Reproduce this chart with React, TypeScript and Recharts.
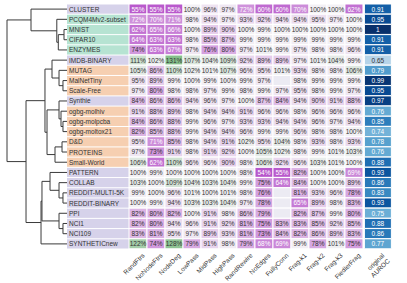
import React from "react";
import { BarChart, Bar, XAxis, YAxis, Cell, LabelList, LineChart, Line } from "recharts";

const datasets = [
  "CLUSTER", "PCQM4Mv2-subset", "MNIST", "CIFAR10", "ENZYMES", "IMDB-BINARY",
  "MUTAG", "MalNetTiny", "Scale-Free", "Synthie", "ogbg-molhiv", "ogbg-molpcba",
  "ogbg-moltox21", "D&D", "PROTEINS", "Small-World", "PATTERN", "COLLAB",
  "REDDIT-MULTI-5K", "REDDIT-BINARY", "PPI", "NCI1", "NCI109", "SYNTHETICnew",
];

// label colour group per dataset
const datasetGroup = [
  "a", "b", "b", "b", "b", "a", "c", "c", "c", "a", "c", "c",
  "c", "c", "c", "c", "a", "a", "a", "a", "a", "a", "a", "a",
];

const perturbations = [
  "RandFtrs", "NoNodeFtrs", "NodeDeg", "LowPass", "MidPass", "HighPass", "RandRewire",
  "NoEdges", "FullyConn", "Frag-k1", "Frag-k2", "Frag-k3", "FiedlerFrag",
];

// relative performance in %, null = not run
const relPerf: (number | null)[][] = [
  [55, 55, 55, 100, 96, 97, 72, 60, 60, 70, 100, 100, 62],
  [72, 70, 71, 98, 94, 97, 93, 92, 94, 94, 95, 97, 100],
  [62, 65, 66, 100, 89, 90, 100, 99, 100, 100, 100, 100, 100],
  [64, 63, 63, 98, 85, 87, 99, 99, 99, 99, 99, 99, 99],
  [74, 63, 67, 97, 76, 80, 97, 101, 99, 97, 98, 98, 96],
  [111, 102, 131, 107, 104, 109, 92, 89, 89, 97, 101, 104, 99],
  [105, 86, 110, 102, 101, 107, 96, 95, 101, 93, 98, 98, 106],
  [95, 89, 99, 100, 99, 100, 99, 97, null, 98, 99, 99, 99],
  [97, 80, 98, 98, 97, 99, 98, 99, 97, 95, 98, 99, 97],
  [84, 86, 86, 94, 96, 97, 100, 87, 84, 94, 90, 91, 88],
  [91, 88, 89, 98, 94, 94, 91, 96, 96, 98, 96, 96, 96],
  [84, 86, 88, 99, 96, 97, 93, 93, 94, 94, 96, 97, 94],
  [82, 85, 88, 99, 94, 94, 96, 99, 99, 96, 98, 98, 100],
  [95, 71, 85, 98, 94, 91, 102, 95, 104, 98, 93, 98, 93],
  [97, 73, 91, 98, 91, 92, 100, 105, 102, 98, 99, 101, 103],
  [106, 62, 110, 96, 96, 90, 98, 106, 92, 96, 103, 101, 100],
  [100, 99, 100, 100, 100, 100, 98, 54, 55, 82, 100, 100, 69],
  [103, 100, 109, 104, 103, 104, 99, 75, 64, 84, 100, 100, 89],
  [99, 100, 96, 101, 100, 101, 98, 76, null, 81, 93, 96, 78],
  [100, 99, 94, 103, 103, 104, 97, 78, null, 65, 89, 98, 83],
  [82, 80, 82, 100, 91, 98, 86, 79, null, 82, 87, 99, 80],
  [82, 80, 94, 96, 91, 92, 81, 75, 83, 83, 85, 92, 85],
  [83, 81, 95, 97, 89, 93, 81, 73, 84, 82, 86, 89, 83],
  [122, 74, 128, 79, 91, 98, 79, 68, 69, 99, 78, 101, 75],
];

const originalAuroc = [
  0.91, 0.95, 1, 0.91, 0.91, 0.65, 0.79, 0.99, 0.95, 0.97, 0.76, 0.85,
  0.74, 0.78, 0.76, 0.88, 0.93, 0.86, 0.83, 0.93, 0.75, 0.88, 0.86, 0.77,
];

// dendrogram linkage: [left, right, height]; ids < 24 are leaves (row order), 24+k is merge k
const linkage: [number, number, number][] = [
  [2, 3, 0.05], [24, 4, 0.145], [1, 25, 0.17], [0, 26, 0.6],
  [7, 8, 0.067], [6, 28, 0.133], [5, 29, 0.25],
  [11, 12, 0.067], [10, 31, 0.1], [9, 32, 0.133],
  [13, 14, 0.083], [34, 15, 0.2], [33, 35, 0.333], [30, 36, 0.367],
  [18, 19, 0.067], [17, 38, 0.133], [16, 39, 0.283],
  [21, 22, 0.067], [20, 41, 0.133], [40, 42, 0.417], [43, 23, 0.433],
  [37, 44, 0.683], [27, 45, 1.0],
];

const FONT = "'Liberation Sans', Arial, sans-serif";
const W = 407;
const H = 283;
const TOP = 4;
const PLOT_BOTTOM = 249;
const ROW_H = (PLOT_BOTTOM - TOP) / datasets.length;
const LABEL_W = 62;
const DENDRO_W = 67;
const GAP_W = 0.08;
const AUROC_W = 1.5;
const X_MAX = perturbations.length + GAP_W + AUROC_W;
const RIGHT = 15.6;

const groupColor: Record<string, string> = { a: "#d6d2ea", b: "#b6e3d2", c: "#f6cfb1" };

const mix = (a: number[], b: number[], t: number) =>
  `rgb(${a.map((c, i) => Math.round(c + (b[i] - c) * t)).join(",")})`;

const LIGHT = [243, 241, 245];
const PURPLE = [178, 72, 199];
const GREEN = [118, 184, 124];
function pctColor(v: number | null) {
  if (v == null) return "#ecebf3";
  if (v <= 100) return mix(LIGHT, PURPLE, Math.min(1, (100 - v) / 50));
  return mix(LIGHT, GREEN, Math.min(1, (v - 100) / 35));
}

const BLUES = ["#f7fbff", "#deebf7", "#c6dbef", "#9ecae1", "#6baed6", "#4292c6", "#2171b5", "#08519c", "#08306b"];
function bluesColor(v: number) {
  const t = Math.max(0, Math.min(1, (v - 0.5) / 0.5)) * (BLUES.length - 1);
  const i = Math.min(BLUES.length - 2, Math.floor(t));
  const hex = (s: string) => [1, 3, 5].map((k) => parseInt(s.slice(k, k + 2), 16));
  return mix(hex(BLUES[i]), hex(BLUES[i + 1]), t - i);
}

const table = datasets.map((name, r) => {
  const row: Record<string, any> = { name, gap: GAP_W, auroc: AUROC_W, a: originalAuroc[r] };
  perturbations.forEach((_, c) => {
    row[`c${c}`] = 1;
    row[`v${c}`] = relPerf[r][c];
  });
  return row;
});

const xTicks = [...perturbations.map((_, i) => i + 0.5), perturbations.length + GAP_W + AUROC_W / 2];

function pctLabel(props: any) {
  const { x, y, width, height, value } = props;
  if (value == null) return null;
  const v = Number(value);
  return (
    <text x={x + width / 2} y={y + height / 2} textAnchor="middle" dominantBaseline="central"
      fontSize={6.5} fontFamily={FONT} fill={v < 72.5 ? "#fff" : "#333"}>{v}%</text>
  );
}

function aurocLabel(props: any) {
  const { x, y, width, height, value } = props;
  const v = Number(value);
  return (
    <text x={x + width / 2} y={y + height / 2} textAnchor="middle" dominantBaseline="central"
      fontSize={6.5} fontFamily={FONT} fill={v < 0.7 ? "#333" : "#fff"}>{String(v)}</text>
  );
}

function RowLabel(props: any) {
  const { x, y, index, payload } = props;
  return (
    <g>
      <rect x={x - LABEL_W} y={y - ROW_H / 2 + 0.5} width={LABEL_W - 0.5} height={ROW_H - 1}
        fill={groupColor[datasetGroup[index]]} />
      <text x={x - LABEL_W + 2} y={y} dominantBaseline="central" fontSize={6.5} fontFamily={FONT} fill="#333">
        {payload.value}
      </text>
    </g>
  );
}

function ColLabel(props: any) {
  const { x, y, index } = props;
  const tx = x + 7;
  const ty = y + 7;
  if (index < perturbations.length) {
    return (
      <text transform={`translate(${tx},${ty}) rotate(-45)`} textAnchor="end" fontSize={6.5}
        fontFamily={FONT} fill="#333">{perturbations[index]}</text>
    );
  }
  return (
    <text transform={`translate(${tx},${ty}) rotate(-45)`} textAnchor="end" fontSize={6.5}
      fontFamily={FONT} fill="#333">
      <tspan x={0} dy={0}>original</tspan>
      <tspan x={0} dy={7.5}>AUROC</tspan>
    </text>
  );
}

// walk the linkage into bracket polylines
function buildDendrogram() {
  const pos: { y: number; d: number }[] = datasets.map((_, i) => ({ y: i, d: 0 }));
  return linkage.map(([l, r, h]) => {
    const a = pos[l];
    const b = pos[r];
    pos.push({ y: (a.y + b.y) / 2, d: h });
    return [
      { d: a.d, y: a.y },
      { d: h, y: a.y },
      { d: h, y: b.y },
      { d: b.d, y: b.y },
    ];
  });
}

export default function App() {
  const brackets = buildDendrogram();
  return (
    <div style={{ position: "absolute", left: 0, top: 0, width: W, height: H, background: "#fff" }}>
      <div style={{ position: "absolute", left: 0, top: 0 }}>
        <LineChart width={DENDRO_W + 1} height={H} margin={{ top: TOP, right: 1, bottom: H - PLOT_BOTTOM, left: 7 }}>
          <XAxis type="number" dataKey="d" domain={[0, 1]} reversed hide />
          <YAxis type="number" dataKey="y" domain={[-0.5, datasets.length - 0.5]} reversed hide />
          {brackets.map((pts, i) => (
            <Line key={i} data={pts} dataKey="y" type="linear" stroke="#3a3a3a" strokeWidth={1}
              dot={false} activeDot={false} isAnimationActive={false} />
          ))}
        </LineChart>
      </div>
      <div style={{ position: "absolute", left: DENDRO_W, top: 0 }}>
        <BarChart width={W - DENDRO_W} height={H} data={table} layout="vertical" barCategoryGap={0} barGap={0}
          margin={{ top: TOP, right: RIGHT, bottom: H - PLOT_BOTTOM - 30, left: 0 }}>
          <XAxis type="number" domain={[0, X_MAX]} ticks={xTicks} interval={0} height={30}
            axisLine={false} tickLine={false} tickSize={0} tickMargin={0} tick={<ColLabel />} />
          <YAxis type="category" dataKey="name" width={LABEL_W} axisLine={false} tickLine={false}
            tickSize={0} tickMargin={0} interval={0} tick={<RowLabel />} />
          {perturbations.map((_, c) => (
            <Bar key={c} dataKey={`c${c}`} stackId="s" stroke="#fff" strokeWidth={1} isAnimationActive={false}>
              {relPerf.map((row, r) => (
                <Cell key={r} fill={pctColor(row[c])} />
              ))}
              <LabelList dataKey={`v${c}`} content={pctLabel} />
            </Bar>
          ))}
          <Bar dataKey="gap" stackId="s" fill="none" stroke="none" isAnimationActive={false} />
          <Bar dataKey="auroc" stackId="s" stroke="#fff" strokeWidth={1} isAnimationActive={false}>
            {originalAuroc.map((v, r) => (
              <Cell key={r} fill={bluesColor(v)} />
            ))}
            <LabelList dataKey="a" content={aurocLabel} />
          </Bar>
        </BarChart>
      </div>
    </div>
  );
}
